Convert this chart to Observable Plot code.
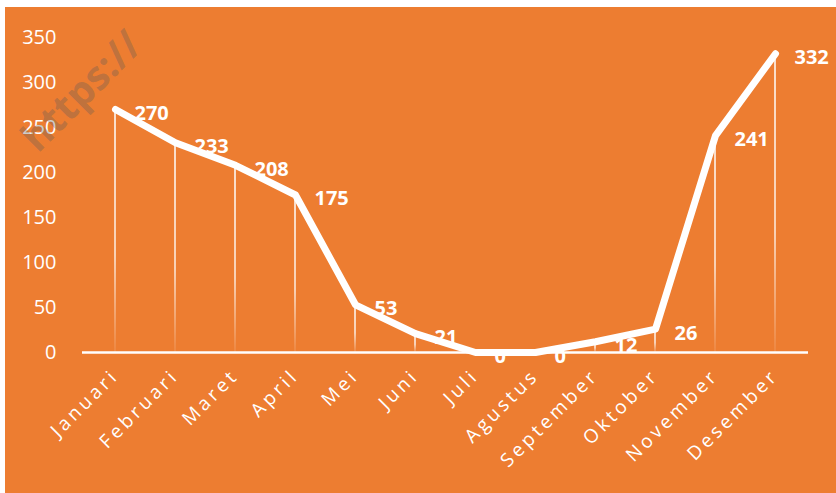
<!DOCTYPE html>
<html>
<head>
<meta charset="utf-8">
<script src="https://cdn.jsdelivr.net/npm/d3@7"></script>
<script src="https://cdn.jsdelivr.net/npm/@observablehq/plot@0.6"></script>
<style>
  html, body { margin: 0; padding: 0; background: #ffffff; width: 836px; height: 493px; overflow: hidden; }
  #wrap { position: absolute; left: 5px; top: 7px; }
  #wm { position: absolute; left: 0; top: 0; pointer-events: none; }
  svg { display: block; }
</style>
</head>
<body>
<div id="wrap"></div>
<svg id="wm" width="836" height="493">
  <text transform="translate(38,154) rotate(-45)" font-family="'Open Sans', sans-serif" font-weight="bold"
        font-size="40" fill="rgb(90,90,90)" fill-opacity="0.33">https://</text>
</svg>
<script>
const months = ["Januari","Februari","Maret","April","Mei","Juni","Juli","Agustus","September","Oktober","November","Desember"];
const values = [270, 233, 208, 175, 53, 21, 0, 0, 12, 26, 241, 332];
const yTicks = [0, 50, 100, 150, 200, 250, 300, 350];

const data = months.map((m, i) => ({month: m, value: values[i]}));
const font = "'Open Sans', sans-serif";

const chart = Plot.plot({
  width: 831,
  height: 486,
  marginLeft: 77,
  marginRight: 28,
  marginTop: 30,
  marginBottom: 141,
  style: {background: "#ED7D31", color: "#ffffff", fontFamily: font, overflow: "visible"},
  x: {type: "band", domain: months, padding: 0, label: null},
  y: {domain: [0, 350], label: null},
  marks: [
    Plot.barY(data, {x: "month", y: "value", fill: "url(#dropGrad)",
      insetLeft: 29.25, insetRight: 29.25}),
    Plot.ruleY([0], {stroke: "#ffffff", strokeWidth: 2.5}),
    Plot.line(data, {x: "month", y: "value", stroke: "#ffffff", strokeWidth: 7,
      strokeLinejoin: "round", strokeLinecap: "round"}),
    Plot.text(data, {x: "month", y: "value", text: d => String(d.value), fill: "#ffffff",
      textAnchor: "start", dx: 19, dy: 4, fontSize: 20, fontWeight: "bold", fontFamily: font}),
    Plot.axisY({ticks: yTicks, tickSize: 0, tickPadding: 26, fontSize: 20, fill: "#ffffff", fontFamily: font, label: null}),
    Plot.axisX({tickSize: 0, tickRotate: -45, tickPadding: 20, fontSize: 19, fill: "#ffffff",
      fontFamily: font, label: null})
  ]
});

const svg = d3.select(chart);
const defs = svg.insert("defs", ":first-child");
const g = defs.append("linearGradient").attr("id", "dropGrad")
  .attr("x1", 0).attr("y1", 0).attr("x2", 0).attr("y2", 1);
g.append("stop").attr("offset", "0%").attr("stop-color", "#ffffff").attr("stop-opacity", 1);
g.append("stop").attr("offset", "60%").attr("stop-color", "#ffffff").attr("stop-opacity", 0.85);
g.append("stop").attr("offset", "100%").attr("stop-color", "#ffffff").attr("stop-opacity", 0.1);

// letter spacing on month labels
svg.selectAll("[aria-label='x-axis tick label'] text").style("letter-spacing", "3.5px");

document.getElementById("wrap").appendChild(chart);
</script>
</body>
</html>
